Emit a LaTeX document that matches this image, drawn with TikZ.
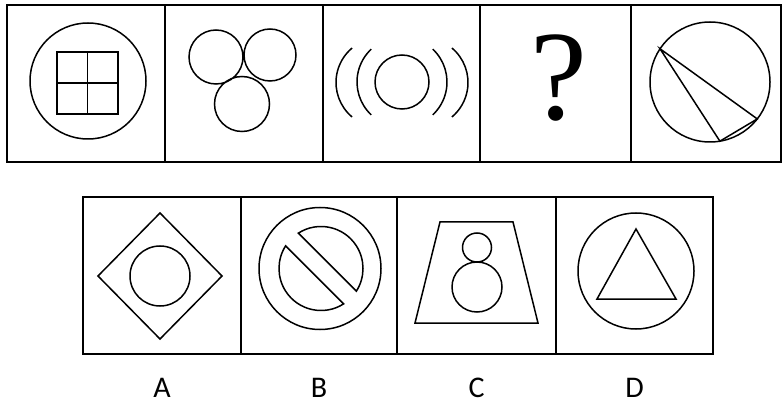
\documentclass[tikz,border=0pt]{standalone}
\usepackage{fontspec}
\newfontfamily\labelfont{Carlito}
\newfontfamily\markfont{Liberation Serif}
\usepackage{tikz}
\usetikzlibrary{positioning}

\begin{document}
\begin{tikzpicture}[x=1pt,y=-1pt,
        cell/.style={rectangle,draw,line width=1.7pt,inner sep=0pt,outer sep=0pt,minimum height=157pt},
        fig/.style={line width=1.5pt},
        lbl/.style={font=\labelfont\fontsize{30}{30}\selectfont,anchor=base}]
    \useasboundingbox (0,0) rectangle (782,406);
    % question row
    \node[cell,minimum width=158pt,anchor=north west] (q1) at (7,5) {};
    \node[cell,minimum width=158pt,right=0pt of q1] (q2) {};
    \node[cell,minimum width=157pt,right=0pt of q2] (q3) {};
    \node[cell,minimum width=151pt,right=0pt of q3] (q4) {};
    \node[cell,minimum width=150pt,right=0pt of q4] (q5) {};
    % answer row
    \node[cell,minimum width=158pt,anchor=north west] (oa) at (83,197) {};
    \node[cell,minimum width=156pt,right=0pt of oa] (ob) {};
    \node[cell,minimum width=159pt,right=0pt of ob] (oc) {};
    \node[cell,minimum width=157pt,right=0pt of oc] (od) {};
    \node[lbl] (la) at ([yshift=-43pt]oa.south) {A};
    \node[lbl] (lb) at ([yshift=-43pt]ob.south) {B};
    \node[lbl] (lc) at ([yshift=-43pt]oc.south) {C};
    \node[lbl] (ld) at ([yshift=-43pt]od.south) {D};

    % 1: window in a circle
    \draw[fig] (88,81) circle[radius=58];
    \draw[fig] (57,52) rectangle (118,114) (87.5,52) -- (87.5,114) (57,83) -- (118,83);
    % 2: three circles
    \draw[fig] (216,57) circle[radius=27] (270,55) circle[radius=26] (242,104) circle[radius=27.5];
    % 3: circle with waves
    \draw[fig] (402,82) circle[radius=27];
    \draw[fig] ([shift={(133:45)}]402,82) arc[start angle=133,end angle=227,radius=45];
    \draw[fig] ([shift={(-47:45)}]402,82) arc[start angle=-47,end angle=47,radius=45];
    \draw[fig] ([shift={(130:45)}]381,82.5) arc[start angle=130,end angle=230,radius=45];
    \draw[fig] ([shift={(-50:45)}]423,82.5) arc[start angle=-50,end angle=50,radius=45];
    % 4: unknown
    \node[font=\markfont\fontsize{128}{128}\selectfont,inner sep=0pt] (qm) at (559,78) {?};
    % 5: circle with chords
    \draw[fig] (710,82) circle[radius=60];
    \draw[fig] ([shift={(213.6:60)}]710,82) -- ([shift={(80.5:60)}]710,82)
        -- ([shift={(38:60)}]710,82) -- cycle;

    % A
    \draw[fig] (160,213) -- (222,276) -- (160,339) -- (98,276) -- cycle;
    \draw[fig] (160,276) circle[radius=30];
    % B
    \draw[fig] (320,268.5) circle[radius=61];
    \draw[fig] ([shift={(-122.6:42)}]321,268.5) arc[start angle=-122.6,end angle=32.6,radius=42] -- cycle;
    \draw[fig] ([shift={(57.4:42)}]321,268.5) arc[start angle=57.4,end angle=212.6,radius=42] -- cycle;
    % C
    \draw[fig] (440,222) -- (513,222) -- (538,323) -- (415,323) -- cycle;
    \draw[fig] (477,247.5) circle[radius=14.5] (477,287) circle[radius=25];
    % D
    \draw[fig] (636,271) circle[radius=58];
    \draw[fig] (636,229) -- (676,299) -- (597,299) -- cycle;
\end{tikzpicture}
\end{document}
